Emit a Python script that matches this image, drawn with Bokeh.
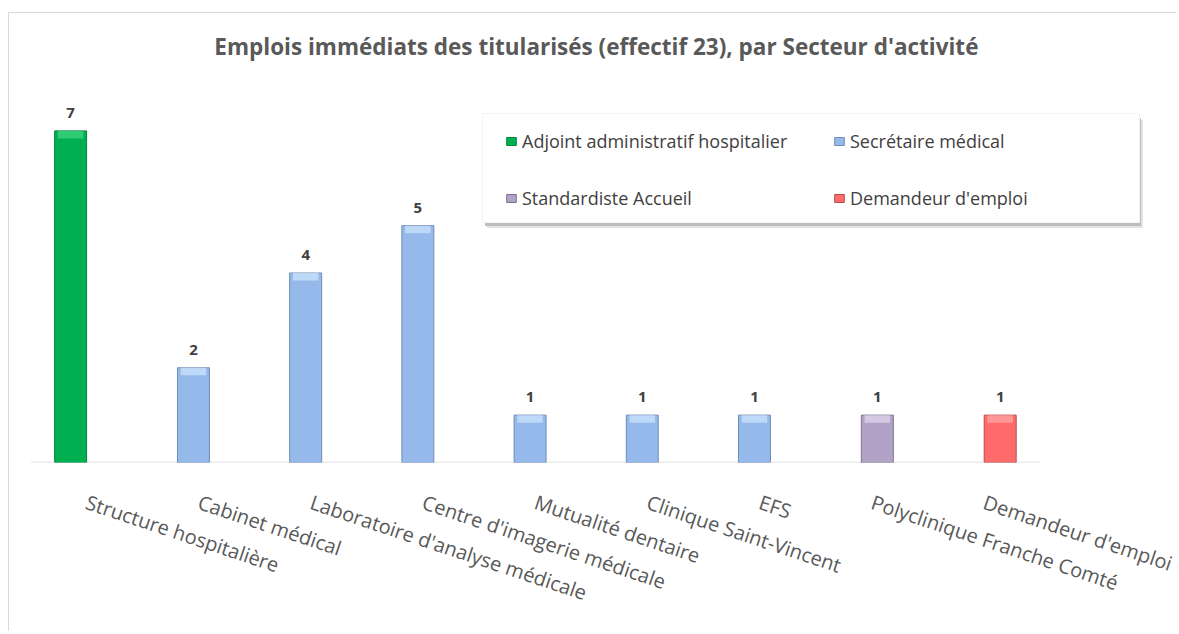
from bokeh.plotting import figure
from bokeh.models import ColumnDataSource, Legend, LegendItem, FactorRange, Label
from bokeh.transform import dodge
from bokeh.core.properties import value
from bokeh.embed import file_html
from bokeh.resources import INLINE

# ---------------- data ----------------
title_text = "Emplois immédiats des titularisés (effectif 23), par Secteur d'activité"
categories = [
    "Structure hospitalière",
    "Cabinet médical",
    "Laboratoire d'analyse médicale",
    "Centre d'imagerie médicale",
    "Mutualité dentaire",
    "Clinique Saint-Vincent",
    "EFS",
    "Polyclinique Franche Comté",
    "Demandeur d'emploi",
]
series_names = [
    "Adjoint administratif hospitalier",
    "Secrétaire médical",
    "Standardiste Accueil",
    "Demandeur d'emploi",
]
adjoint = [7, 0, 0, 0, 0, 0, 0, 0, 0]
secretaire = [0, 2, 4, 5, 1, 1, 1, 0, 0]
standardiste = [0, 0, 0, 0, 0, 0, 0, 1, 0]
demandeur = [0, 0, 0, 0, 0, 0, 0, 0, 1]
series_values = [adjoint, secretaire, standardiste, demandeur]

# ---------------- style ----------------
fills = ["#00B050", "#95B9EA", "#B3A2C7", "#FF6B6B"]
edges = ["#00843C", "#6F8DB5", "#7F7190", "#B84A4A"]
highlights = ["#3FD27E", "#C8E0FA", "#DCD2EA", "#FFA3A3"]
FONT = "Open Sans"
slot = 0.095
bar_w = 0.285
y_max = 8                       # value axis maximum at the chart's plot-area top
plot_h, top_h = 379, 70         # plot area height and title band height (px)
y_end = y_max * (plot_h + top_h) / plot_h

# one empty slot on the right leaves room for the legend box;
# the frame extends over the title band so the title can sit there
p = figure(
    x_range=FactorRange(*categories, " ", range_padding=0),
    y_range=(0, y_end),
    width=1168, height=619,
    output_backend="svg", toolbar_location=None,
    y_axis_location=None,
    min_border_left=21, min_border_right=25,
    min_border_top=0, min_border_bottom=170,
    background_fill_color="white", border_fill_color="white",
    outline_line_color=None,
)
p.styles = {"border-left": "1px solid #D9D9D9", "border-top": "1px solid #D9D9D9",
            "margin-left": "8px", "margin-top": "12px"}

p.add_layout(Label(x=len(categories) * 0.5604, y=y_max * 1.0975, text=title_text,
                   text_align="center", text_baseline="middle",
                   text_font=FONT, text_font_size="22.5px", text_font_style="bold",
                   text_color="#595959"))

p.xgrid.visible = False
p.ygrid.visible = False

ax = p.xaxis[0]
ax.axis_line_color = None
ax.major_tick_line_color = None
ax.minor_tick_line_color = None
ax.major_label_orientation = -0.322
ax.major_label_text_font = FONT
ax.major_label_text_font_size = "20px"
ax.major_label_text_color = "#595959"
ax.major_label_standoff = 33

# category-axis baseline, spanning the real categories only
p.segment(x0=0, y0=0, x1=len(categories), y1=0, line_color="#D9D9D9", line_width=1.5)

# legend frame and its shadow, drawn as empty legends (decoration)
dummy = p.scatter(x=[], y=[], fill_alpha=0, line_alpha=0)
def box_legend(loc, color, border):
    return Legend(
        items=[LegendItem(label=" ", renderers=[dummy])],
        location=loc, padding=0, margin=0, spacing=0,
        glyph_width=1, glyph_height=1, label_standoff=0,
        label_width=655, label_height=108, label_text_font_size="1px",
        background_fill_color=color, background_fill_alpha=1,
        border_line_color=border,
    )
p.add_layout(box_legend((457, 234), "#E4E4E4", None), "center")
p.add_layout(box_legend((455, 236), "#BEBEBE", None), "center")
p.add_layout(box_legend((452, 239), "white", "#E8E8E8"), "center")

renderers = []
for i, (name, vals) in enumerate(zip(series_names, series_values)):
    cats = [c for c, v in zip(categories, vals) if v]
    vs = [v for v in vals if v]
    src = ColumnDataSource(dict(cat=cats, val=vs, lab=[str(v) for v in vs],
                                hl=[v - 0.16 for v in vs]))
    off = (i - 1.5) * slot
    xd = dodge("cat", off, range=p.x_range)
    r = p.vbar(x=xd, top="val", bottom=0, width=bar_w, source=src,
               fill_color=fills[i], line_color=edges[i], line_width=1)
    p.vbar(x=xd, top="val", bottom="hl", width=bar_w * 0.8, source=src,
           fill_color=highlights[i], line_color=None, fill_alpha=0.8)
    p.text(x=xd, y="val", text="lab", source=src, text_align="center",
           text_baseline="bottom", y_offset=-13, text_font=value(FONT),
           text_font_size="15px", text_font_style="bold", text_color="#404040")
    renderers.append(r)

# row-major order in a 2-column legend
order = [0, 2, 1, 3]
legend = Legend(
    items=[LegendItem(label=series_names[k], renderers=[renderers[k]]) for k in order],
    ncols=2,
    location=(475, 252),
    padding=0, spacing=33, margin=0,
    glyph_width=12, glyph_height=10, label_standoff=5,
    label_width=278, label_height=22,
    label_text_font=FONT, label_text_font_size="18px", label_text_color="#404040",
    border_line_color=None, background_fill_alpha=0,
)
p.add_layout(legend, "center")

open("out.html", "w").write(file_html(p, INLINE))
